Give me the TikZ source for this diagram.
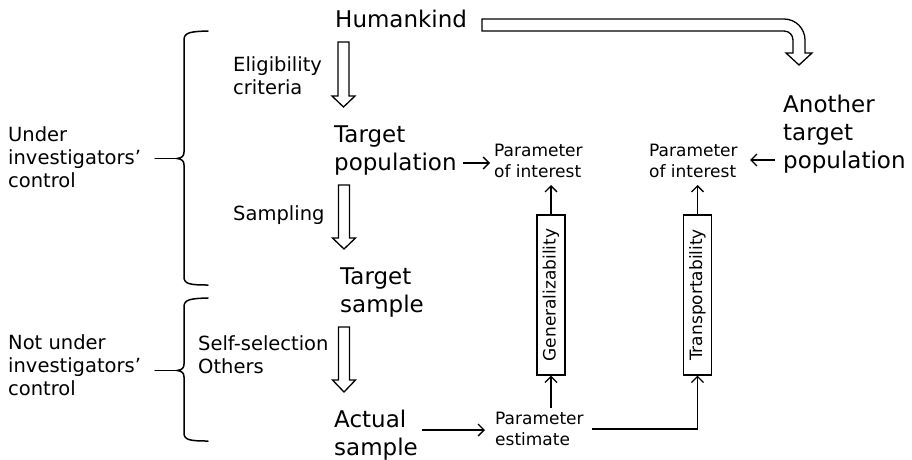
\documentclass[tikz,border=0pt]{standalone}
\usepackage{fontspec}
\setmainfont{DejaVu Sans}
\usetikzlibrary{arrows.meta}

\tikzset{
  big/.style={font=\fontsize{23}{28}\selectfont, inner sep=0pt, align=left},
  mid/.style={font=\fontsize{19.5}{23}\selectfont, inner sep=0pt, align=left},
  small/.style={font=\fontsize{17}{20.5}\selectfont, inner sep=0pt, align=left},
  arr/.style={line width=1.3pt, -{Straight Barb[length=6pt,width=12pt,line width=1.3pt]}},
  hollow/.style={line width=1.3pt, line join=miter, fill=white},
  bracestyle/.style={line width=1.5pt, line cap=round},
  vbox/.style={draw, line width=1.2pt, rotate=90, minimum width=160pt, minimum height=28pt,
    inner sep=0pt, font=\fontsize{17}{20}\selectfont},
}

\begin{document}
\begin{tikzpicture}[x=1pt, y=-1pt]
\useasboundingbox (0,0) rectangle (912,459);

% ---- text of the main chain (anchored at the baseline of the last line) ----
\node[big, anchor=base west] (human) at (335,27) {Humankind};
\node[big, anchor=base west] (targetpop) at (334,170) {Target\\population};
\node[big, anchor=base west] (targetsample) at (340,312) {Target\\sample};
\node[big, anchor=base west] (actual) at (334,455) {Actual\\sample};
\node[big, anchor=base west] (another) at (783,168) {Another\\target\\population};

% ---- step labels ----
\node[mid, anchor=base west] (elig) at (233,94) {Eligibility\\criteria};
\node[mid, anchor=base west] (sampling) at (233,220) {Sampling};
\node[mid, anchor=base west] (selfsel) at (198,373) {Self-selection\\Others};

% ---- control labels ----
\node[mid, anchor=base west] (under) at (8,187) {Under\\investigators’\\control};
\node[mid, anchor=base west] (notunder) at (8,395) {Not under\\investigators’\\control};

% ---- parameters ----
\node[small, anchor=base west] (poiA) at (494,177) {Parameter\\of interest};
\node[small, anchor=base west] (poiB) at (649,177) {Parameter\\of interest};
\node[small, anchor=base west] (estimate) at (495,445) {Parameter\\estimate};

% ---- vertical boxes ----
\node[vbox] (gen) at (551,295) {Generalizability};
\node[vbox] (trans) at (697.5,295) {Transportability};

% ---- hollow arrows down the chain ----
\draw[hollow] (338,42) -- (349,42) -- (349,96) -- (355,96) -- (343.5,107)
  -- (332,96) -- (338,96) -- cycle;
\draw[hollow] (338.5,185) -- (349.5,185) -- (349.5,238) -- (355.5,238) -- (344,249)
  -- (332.5,238) -- (338.5,238) -- cycle;
\draw[hollow] (338.5,327) -- (349.5,327) -- (349.5,380) -- (355.5,380) -- (344,392)
  -- (332.5,380) -- (338.5,380) -- cycle;

% ---- bent hollow arrow from Humankind to the other population ----
\draw[hollow] (482,19) -- (784,19) .. controls (795.6,19) and (805,28.4) .. (805,40)
  -- (805,53) -- (812,53) -- (799,65) -- (786,53) -- (793,53) -- (793,40)
  .. controls (793,35) and (789,31) .. (784,31) -- (482,31) -- cycle;

% ---- braces ----
\draw[bracestyle] (208,31) .. controls (190,31.5) and (184,32.5) .. (184,40)
  -- (184,152) .. controls (184,156) and (182,158) .. (177,158.5)
  .. controls (182,159) and (184,161) .. (184,165)
  -- (184,277) .. controls (184,284) and (190,285) .. (208,285);
\draw[bracestyle] (155,158.5) -- (177,158.5);
\draw[bracestyle] (208,298) .. controls (190,298.5) and (184,299.5) .. (184,307)
  -- (184,364) .. controls (184,368) and (182,370) .. (177,370.5)
  .. controls (182,371) and (184,373) .. (184,377)
  -- (184,433) .. controls (184,440) and (190,441) .. (208,441);
\draw[bracestyle] (155,370.5) -- (177,370.5);

% ---- connectors ----
\coordinate (popout) at (463,163);
\coordinate (poiAin) at (490,163);
\draw[arr] (popout) -- (poiAin);
\draw[arr] (gen.east) -- (gen.east |- 0,185);
\draw[arr] (trans.east) -- (trans.east |- 0,185);
\draw[arr] (gen.west |- 0,408) -- (gen.west);
\draw[arr] (422,430) -- (485,430);
\draw[arr] (592,429) -| (trans.west);
\draw[arr] (775,160) -- (750,160);
\end{tikzpicture}
\end{document}
